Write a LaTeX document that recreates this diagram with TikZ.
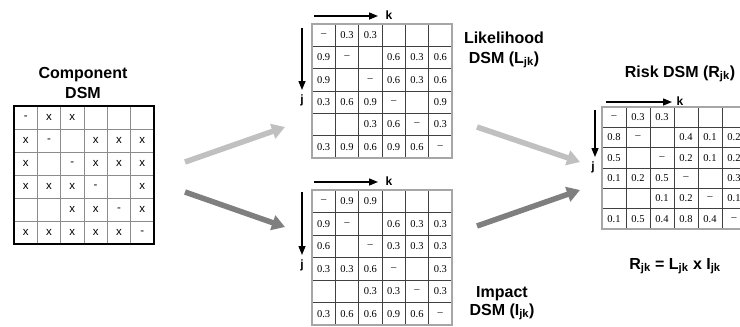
\documentclass[tikz,border=0pt]{standalone}
\usepackage{fontspec}
\setmainfont{Liberation Serif}
\newfontfamily\labelfont{Liberation Sans}
\usetikzlibrary{arrows.meta}

\definecolor{flowlight}{HTML}{C0C0C0}
\definecolor{flowdark}{HTML}{7F7F7F}
\definecolor{framegray}{HTML}{A6A6A6}
\definecolor{rulegray}{HTML}{8C8C8C}
\definecolor{ruledark}{HTML}{404040}

\tikzset{
  numcell/.style={inner sep=0pt, font=\fontsize{10.5}{12}\selectfont},
  xcell/.style={inner sep=0pt, font=\labelfont\fontsize{11.5}{12}\selectfont},
  title/.style={inner sep=0pt, font=\labelfont\bfseries\fontsize{16}{18}\selectfont},
  axislabel/.style={inner sep=0pt, font=\labelfont\bfseries\fontsize{12}{14}\selectfont},
  axis/.style={line width=1.4pt, -{Triangle[length=9pt,width=7pt]}},
  flow/.style={line width=5.5pt, -{Triangle[length=13pt,width=15pt]}},
  softrule/.style={draw=rulegray, line width=0.8pt},
  hardrule/.style={draw=ruledark, line width=0.7pt},
  blackframe/.style={draw=black, line width=2pt},
  grayframe/.style={draw=framegray, line width=2pt},
}

% 6x6 DSM: prefix, left, top, cell width, cell height,
% cell style, inner rule style, frame style, rows
\newcommand{\dsmtable}[9]{%
  \foreach \rowvals [count=\r] in {#9} {
    \foreach \v [count=\c] in \rowvals {
      \node[#6] (#1-\r-\c) at ({#2+(\c-0.5)*#4},{#3+(\r-0.5)*#5}) {\v};
    }
  }
  \foreach \i in {1,...,5} {
    \draw[#7] ({#2+\i*#4},#3) -- ({#2+\i*#4},{#3+6*#5});
    \draw[#7] (#2,{#3+\i*#5}) -- ({#2+6*#4},{#3+\i*#5});
  }
  \draw[#8] (#2,#3) rectangle ({#2+6*#4},{#3+6*#5});
}

\begin{document}
\begin{tikzpicture}[x=1pt,y=-1pt]
\clip (0,0) rectangle (740,327);
\fill[white] (0,0) rectangle (740,327);

% component DSM
\node[title] (comp-t1) at (83,75) {Component};
\node[title] (comp-t2) at (83,93) {DSM};
\dsmtable{C}{14}{106}{23.33}{23}{xcell}{softrule}{blackframe}{
  {-,x,x,{},{},{}},
  {x,-,{},x,x,x},
  {x,{},-,x,x,x},
  {x,x,x,-,{},x},
  {{},{},x,x,-,x},
  {x,x,x,x,x,-}}

% likelihood DSM
\dsmtable{L}{312}{24}{23.33}{22.33}{numcell}{hardrule}{grayframe}{
  {\textendash,0.3,0.3,{},{},{}},
  {0.9,\textendash,{},0.6,0.3,0.6},
  {0.9,{},\textendash,0.6,0.3,0.6},
  {0.3,0.6,0.9,\textendash,{},0.9},
  {{},{},0.3,0.6,\textendash,0.3},
  {0.3,0.9,0.6,0.9,0.6,\textendash}}
\node[title] (lik-t1) at (504,38) {Likelihood};
\node[title] (lik-t2) at (504,60) {DSM (L\textsubscript{jk})};
\coordinate (Lk0) at (314,16);
\coordinate (Lk1) at (378,16);
\coordinate (Lj0) at (302,28);
\coordinate (Lj1) at (302,90);
\draw[axis] (Lk0) -- (Lk1);
\draw[axis] (Lj0) -- (Lj1);
\node[axislabel] (Lk) at (389,15) {k};
\node[axislabel] (Lj) at (302,100) {j};

% impact DSM
\dsmtable{I}{312}{190}{23.33}{22.5}{numcell}{hardrule}{grayframe}{
  {\textendash,0.9,0.9,{},{},{}},
  {0.9,\textendash,{},0.6,0.3,0.3},
  {0.6,{},\textendash,0.3,0.3,0.3},
  {0.3,0.3,0.6,\textendash,{},0.3},
  {{},{},0.3,0.3,\textendash,0.3},
  {0.3,0.6,0.6,0.9,0.6,\textendash}}
\node[title] (imp-t1) at (502,294) {Impact};
\node[title] (imp-t2) at (502,312) {DSM (I\textsubscript{jk})};
\coordinate (Ik0) at (314,182);
\coordinate (Ik1) at (378,182);
\coordinate (Ij0) at (302,192);
\coordinate (Ij1) at (302,255);
\draw[axis] (Ik0) -- (Ik1);
\draw[axis] (Ij0) -- (Ij1);
\node[axislabel] (Ik) at (389,181) {k};
\node[axislabel] (Ij) at (302,265) {j};

% risk DSM
\node[title] (risk-t) at (680,74) {Risk DSM (R\textsubscript{jk})};
\dsmtable{R}{602}{107}{24}{20.3}{numcell}{hardrule}{grayframe}{
  {\textendash,0.3,0.3,{},{},{}},
  {0.8,\textendash,{},0.4,0.1,0.2},
  {0.5,{},\textendash,0.2,0.1,0.2},
  {0.1,0.2,0.5,\textendash,{},0.3},
  {{},{},0.1,0.2,\textendash,0.1},
  {0.1,0.5,0.4,0.8,0.4,\textendash}}
\coordinate (Rk0) at (606,102);
\coordinate (Rk1) at (672,102);
\coordinate (Rj0) at (595,110);
\coordinate (Rj1) at (595,157);
\draw[axis] (Rk0) -- (Rk1);
\draw[axis] (Rj0) -- (Rj1);
\node[axislabel] (Rk) at (680,101) {k};
\node[axislabel] (Rj) at (593,167) {j};
\node[title] (formula) at (675,266)
  {R\textsubscript{jk} = L\textsubscript{jk} x I\textsubscript{jk}};

% flow arrows between the matrices
\coordinate (f1s) at (185,162);
\coordinate (f1e) at (285,127);
\coordinate (f2s) at (185,192);
\coordinate (f2e) at (285,227);
\coordinate (f3s) at (477,127);
\coordinate (f3e) at (580,162);
\coordinate (f4s) at (477,226);
\coordinate (f4e) at (580,190);
\draw[flow, flowlight] (f1s) -- (f1e);
\draw[flow, flowdark] (f2s) -- (f2e);
\draw[flow, flowlight] (f3s) -- (f3e);
\draw[flow, flowdark] (f4s) -- (f4e);
\end{tikzpicture}
\end{document}
